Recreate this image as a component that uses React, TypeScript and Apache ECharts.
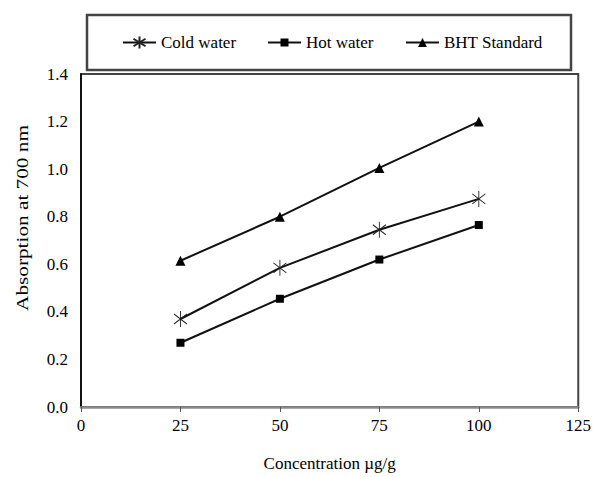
import React, { useEffect, useRef } from "react";
import * as echarts from "echarts";

const concentrations = [25, 50, 75, 100];
const coldWater = [0.37, 0.585, 0.745, 0.875];
const hotWater = [0.27, 0.455, 0.62, 0.765];
const bhtStandard = [0.615, 0.8, 1.005, 1.2];
const seriesNames = ["Cold water", "Hot water", "BHT Standard"];
const xTicks = [0, 25, 50, 75, 100, 125];
const yTicks = [0, 0.2, 0.4, 0.6, 0.8, 1.0, 1.2, 1.4];

const FONT = "'Liberation Serif', 'Times New Roman', serif";
const ASTERISK = "path://M6 0L6 16M0 3L12 13M0 13L12 3";

export default function App() {
  const ref = useRef<HTMLDivElement>(null);
  useEffect(() => {
    document.body.style.margin = "0";
    if (!ref.current) return;
    const chart = echarts.init(ref.current, null, { renderer: "svg" });
    const pts = (vals: number[]) => concentrations.map((c, i) => [c, vals[i]]);
    const lineStyle = { color: "#111", width: 2 };
    const legendBase = {
      top: 34,
      padding: 0,
      itemWidth: 33,
      textStyle: { fontFamily: FONT, fontSize: 17, color: "#000" },
    };
    chart.setOption({
      animation: false,
      backgroundColor: "#fff",
      grid: {
        left: 81,
        top: 74,
        right: 14,
        bottom: 66,
        show: true,
        borderColor: "#444",
        borderWidth: 2,
      },
      legend: [
        { ...legendBase, left: 122, itemHeight: 15, data: [seriesNames[0]] },
        { ...legendBase, left: 267, itemHeight: 10, data: [seriesNames[1]] },
        { ...legendBase, left: 405, itemHeight: 11, data: [seriesNames[2]] },
      ],
      xAxis: {
        type: "value",
        min: xTicks[0],
        max: xTicks[xTicks.length - 1],
        interval: 25,
        name: "Concentration µg/g",
        nameLocation: "middle",
        nameGap: 48,
        nameTextStyle: { fontFamily: FONT, fontSize: 17, color: "#000" },
        axisLine: { lineStyle: { color: "#8c8c8c", width: 2.5 } },
        axisTick: { show: true, length: 5, lineStyle: { color: "#555", width: 1 } },
        axisLabel: { fontFamily: FONT, fontSize: 17, color: "#000", margin: 10 },
        splitLine: { show: false },
      },
      yAxis: {
        type: "value",
        min: yTicks[0],
        max: yTicks[yTicks.length - 1],
        interval: 0.2,
        axisLine: { show: true, lineStyle: { color: "#000", width: 1.5 } },
        axisTick: { show: false },
        axisLabel: {
          fontFamily: FONT,
          fontSize: 17,
          color: "#000",
          margin: 13,
          formatter: (v: number) => v.toFixed(1),
        },
        splitLine: { show: false },
      },
      graphic: [
        {
          type: "rect",
          shape: { x: 87, y: 15, width: 484, height: 55 },
          style: { fill: "#fff", stroke: "#444", lineWidth: 2.5 },
          z: -1,
        },
        {
          type: "text",
          x: 22,
          y: 218,
          rotation: Math.PI / 2,
          scaleX: 1.25,
          style: {
            text: "Absorption at 700 nm",
            fontFamily: FONT,
            fontSize: 17,
            fill: "#000",
            align: "center",
            verticalAlign: "middle",
          },
        },
      ],
      series: [
        {
          name: seriesNames[0],
          type: "line",
          data: pts(coldWater),
          symbol: ASTERISK,
          symbolSize: [13, 16],
          lineStyle,
          itemStyle: { color: "none", borderColor: "#222", borderWidth: 1 },
        },
        {
          name: seriesNames[1],
          type: "line",
          data: pts(hotWater),
          symbol: "rect",
          symbolSize: 8,
          lineStyle,
          itemStyle: { color: "#000" },
        },
        {
          name: seriesNames[2],
          type: "line",
          data: pts(bhtStandard),
          symbol: "triangle",
          symbolSize: 10,
          lineStyle,
          itemStyle: { color: "#000" },
        },
      ],
    });
    return () => chart.dispose();
  }, []);
  return <div ref={ref} style={{ width: 594, height: 477 }} />;
}
